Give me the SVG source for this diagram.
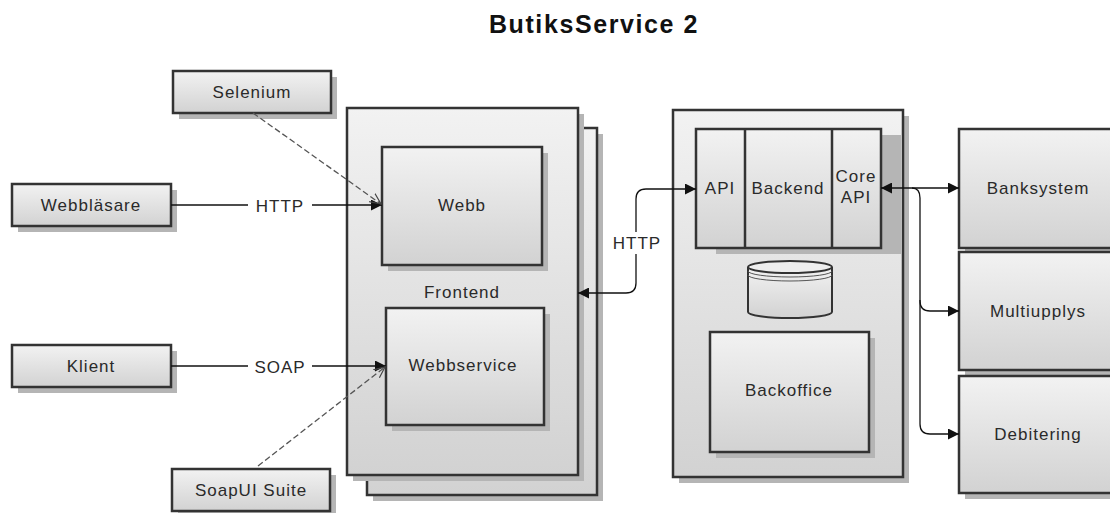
<svg xmlns="http://www.w3.org/2000/svg" width="1110" height="513" viewBox="0 0 1110 513">
<defs>
<linearGradient id="g" x1="0" y1="0" x2="0" y2="1">
<stop offset="0" stop-color="#f2f2f2"/>
<stop offset="1" stop-color="#d2d2d2"/>
</linearGradient>
<marker id="fa" viewBox="0 0 10 10" refX="10" refY="5" markerWidth="11" markerHeight="11" markerUnits="userSpaceOnUse" orient="auto-start-reverse">
<path d="M0,0 L10,5 L0,10 Z" fill="#111"/>
</marker>
<marker id="oa" viewBox="0 0 12 12" refX="11" refY="6" markerWidth="12" markerHeight="12" markerUnits="userSpaceOnUse" orient="auto">
<path d="M0,1 L11,6 L0,11" fill="none" stroke="#444" stroke-width="1.2"/>
</marker>
</defs>
<style>
.box{fill:url(#g);stroke:#333;stroke-width:2.5}
.sh{fill:#b5b5b5}
.t{font-family:"Liberation Sans",Arial,sans-serif;font-size:17px;letter-spacing:1px;fill:#2a2a2a;text-anchor:middle}
.c{fill:none;stroke:#111;stroke-width:1.3}
.d{fill:none;stroke:#555;stroke-width:1.3;stroke-dasharray:6,3}
.lbl{fill:#fff}
</style>
<rect width="1110" height="513" fill="#fff"/>
<text x="594" y="33" font-family="Liberation Sans,Arial,sans-serif" font-size="25" letter-spacing="1.6" font-weight="bold" text-anchor="middle" fill="#111">ButiksService 2</text>

<g id="selenium">
<rect class="sh" x="179" y="77" width="158" height="42"/>
<rect class="box" x="173" y="71" width="158" height="42"/>
<text class="t" x="252" y="98">Selenium</text>
</g>
<g id="webblasare">
<rect class="sh" x="18" y="190" width="159" height="42"/>
<rect class="box" x="12" y="184" width="159" height="42"/>
<text class="t" x="91" y="211">Webbläsare</text>
</g>
<g id="klient">
<rect class="sh" x="18" y="351" width="159" height="42"/>
<rect class="box" x="12" y="345" width="159" height="42"/>
<text class="t" x="91" y="372">Klient</text>
</g>
<g id="soapui">
<rect class="sh" x="178" y="475" width="158" height="42"/>
<rect class="box" x="172" y="469" width="158" height="42"/>
<text class="t" x="251" y="496">SoapUI Suite</text>
</g>

<g id="frontend">
<rect class="sh" x="373" y="134" width="230" height="367"/>
<rect class="box" x="367" y="128" width="230" height="367"/>
<rect class="sh" x="353" y="114" width="231" height="367"/>
<rect class="box" x="347" y="108" width="231" height="367"/>
<text class="t" x="462" y="298">Frontend</text>
</g>
<g id="webb">
<rect class="sh" x="388" y="153" width="160" height="118"/>
<rect class="box" x="382" y="147" width="160" height="118"/>
<text class="t" x="462" y="211">Webb</text>
</g>
<g id="webbservice">
<rect class="sh" x="392" y="314" width="158" height="117"/>
<rect class="box" x="386" y="308" width="158" height="117"/>
<text class="t" x="463" y="371">Webbservice</text>
</g>

<g id="server">
<rect class="sh" x="679" y="116" width="230" height="367"/>
<rect class="box" x="673" y="110" width="230" height="367"/>
</g>
<g id="backend">
<rect class="sh" x="716" y="135" width="185" height="119"/>
<rect class="box" x="696" y="129" width="185" height="119"/>
<line x1="745" y1="129" x2="745" y2="248" stroke="#333" stroke-width="2.5"/>
<line x1="832" y1="129" x2="832" y2="248" stroke="#333" stroke-width="2.5"/>
<text class="t" x="720" y="194" letter-spacing="0">API</text>
<text class="t" x="788" y="194" letter-spacing="0">Backend</text>
<text class="t" x="856" y="182" letter-spacing="0">Core</text>
<text class="t" x="856" y="203" letter-spacing="0">API</text>
</g>
<g id="database">
<path d="M748,267 L748,312 A42,6 0 0 0 832,312 L832,267" fill="url(#g)" stroke="#333" stroke-width="2"/>
<ellipse cx="790" cy="267" rx="42" ry="6" fill="#eee" stroke="#333" stroke-width="2"/>
<path d="M748,271 A42,6 0 0 0 832,271 M748,275 A42,6 0 0 0 832,275" fill="none" stroke="#555" stroke-width="1"/>
</g>
<g id="backoffice">
<rect class="sh" x="716" y="338" width="159" height="120"/>
<rect class="box" x="710" y="332" width="159" height="120"/>
<text class="t" x="789" y="396">Backoffice</text>
</g>

<g id="banksystem">
<rect class="sh" x="965" y="135" width="160" height="119"/>
<rect class="box" x="959" y="129" width="160" height="119"/>
<text class="t" x="1038" y="194">Banksystem</text>
</g>
<g id="multiupplys">
<rect class="sh" x="965" y="258" width="160" height="118"/>
<rect class="box" x="959" y="252" width="160" height="118"/>
<text class="t" x="1038" y="317">Multiupplys</text>
</g>
<g id="debitering">
<rect class="sh" x="965" y="382" width="160" height="117"/>
<rect class="box" x="959" y="376" width="160" height="117"/>
<text class="t" x="1038" y="440">Debitering</text>
</g>

<g id="connectors">
<line class="c" x1="171" y1="205" x2="382" y2="205" marker-end="url(#fa)"/>
<rect class="lbl" x="248" y="195" width="64" height="20"/>
<text class="t" x="280" y="212">HTTP</text>
<line class="c" x1="171" y1="366" x2="386" y2="366" marker-end="url(#fa)"/>
<rect class="lbl" x="248" y="356" width="64" height="20"/>
<text class="t" x="280" y="373">SOAP</text>
<line class="d" x1="253" y1="113" x2="381" y2="204" marker-end="url(#oa)"/>
<line class="d" x1="258" y1="466" x2="385" y2="367" marker-end="url(#oa)"/>
<path class="c" d="M578,293 L626,293 Q636,293 636,283 L636,199 Q636,189 646,189 L696,189" marker-start="url(#fa)" marker-end="url(#fa)"/>
<rect class="lbl" x="610" y="232" width="54" height="22"/>
<text class="t" x="637" y="249">HTTP</text>
<line class="c" x1="881" y1="188" x2="959" y2="188" marker-start="url(#fa)" marker-end="url(#fa)"/>
<path class="c" d="M912,188 Q920,188 920,198 L920,301 Q920,311 930,311 L959,311" marker-end="url(#fa)"/>
<path class="c" d="M920,300 L920,424 Q920,434 930,434 L959,434" marker-end="url(#fa)"/>
</g>
</svg>
